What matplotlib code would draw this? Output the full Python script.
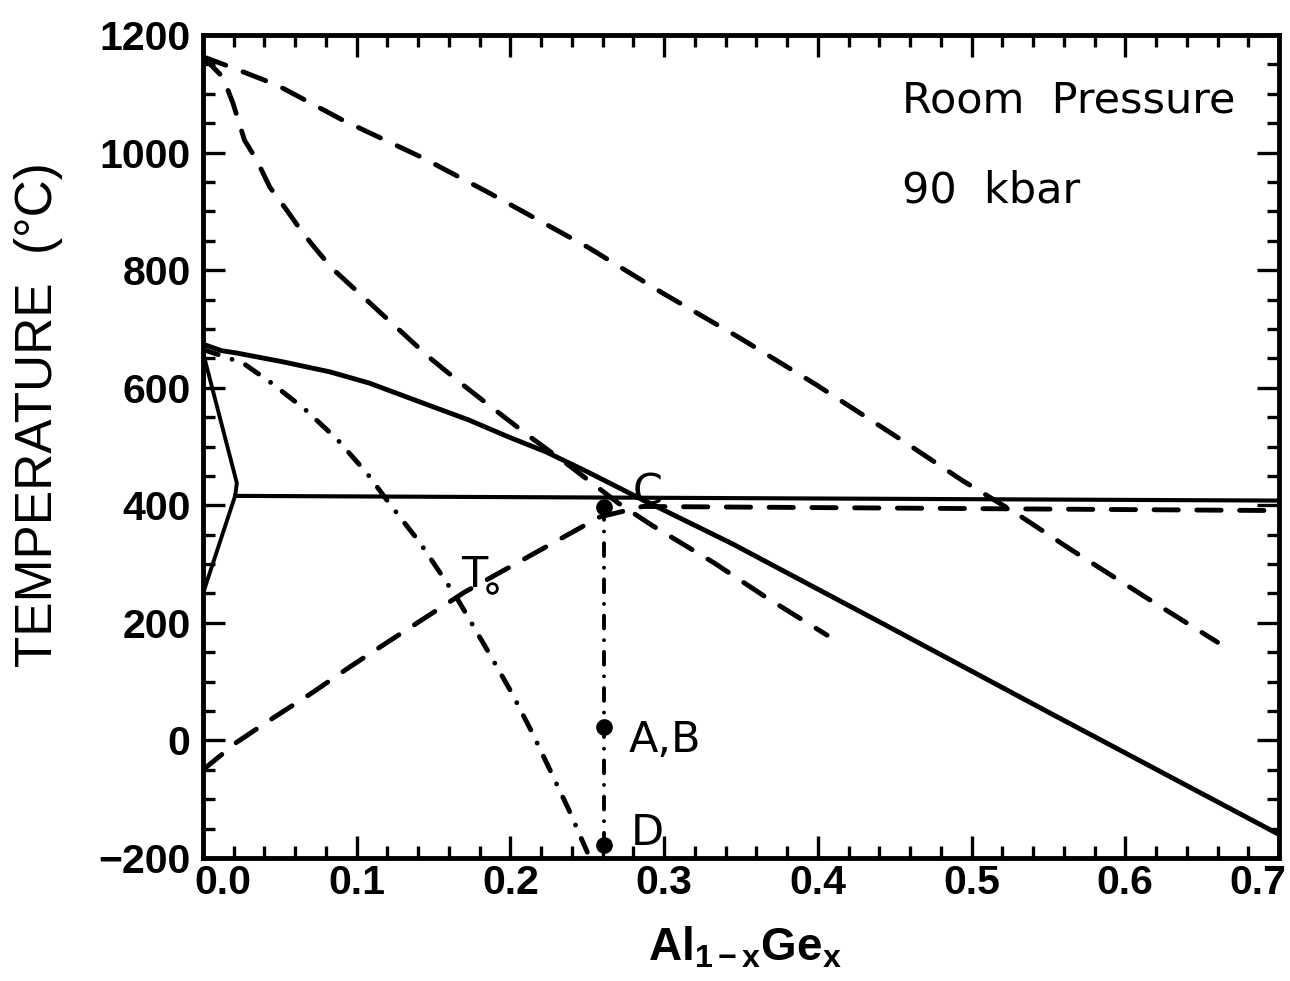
"""Al-Ge phase diagram: room pressure vs 90 kbar curves."""

import numpy as np
import matplotlib
matplotlib.use("Agg")
import matplotlib.pyplot as plt
from matplotlib.transforms import blended_transform_factory

plt.rcParams['mathtext.fontset'] = 'custom'
plt.rcParams['mathtext.rm'] = 'Liberation Sans'
plt.rcParams['mathtext.bf'] = 'Liberation Sans:bold'
plt.rcParams['mathtext.it'] = 'Liberation Sans:italic'

# room pressure liquidus (solid)
liq_x = [0.0, 0.012, 0.022, 0.052, 0.0825, 0.108, 0.143, 0.173, 0.199, 0.223,
         0.250, 0.284, 0.344, 0.442, 0.55, 0.70]
liq_y = [674, 663, 659, 644, 627, 608, 574, 545, 516, 491,
         457, 412, 335, 199, 48, -160]

# Al-rich solvus (solid)
solvus_x = [0.0, 0.022, 0.021, 0.0]
solvus_y = [660, 438, 417, 250]

# eutectic line (solid)
eut_x = [0.021, 0.70]
eut_y = [416, 408]

# T0 curve (dash-dot)
t0_x = [0.0, 0.026, 0.0435, 0.066, 0.087, 0.1065, 0.123, 0.141, 0.165,
        0.186, 0.2006, 0.214, 0.2266, 0.238, 0.250]
t0_y = [665, 642, 610, 564, 513, 455, 397, 337, 243,
        149, 82, 14, -55, -118, -190]

# 90 kbar curves (dashed)
hp_upper_x = [0.0, 0.0195, 0.048, 0.091, 0.143, 0.185, 0.251, 0.299, 0.349,
              0.399, 0.4545, 0.4935, 0.5286, 0.565, 0.613, 0.660]
hp_upper_y = [1163, 1144, 1115, 1055, 991, 933, 838, 761, 685,
              605, 511, 443, 387, 324, 244, 167]

hp_lower_x = [0.0, 0.013, 0.0195, 0.027, 0.035, 0.0435, 0.0545, 0.065, 0.074,
              0.084, 0.147, 0.169, 0.1916, 0.214, 0.236, 0.27, 0.292, 0.3325,
              0.366, 0.406]
hp_lower_y = [1163, 1128, 1084, 1021, 987, 941, 902, 863, 834,
              803, 652, 605, 559, 514, 472, 404, 366, 302,
              244, 179]

hp_t0_x = [0.0, 0.022, 0.0455, 0.071, 0.0955, 0.110, 0.17, 0.258, 0.286, 0.70]
hp_t0_y = [-50, -3, 38, 81, 125, 150, 252, 380, 398, 391]

# quench path points
path_x = 0.261
path_y = [397, 23, -178]

x_ticks = [0.0, 0.1, 0.2, 0.3, 0.4, 0.5, 0.6, 0.7]
x_tick_labels = ["0.0", "0.1", "0.2", "0.3", "0.4", "0.5", "0.6", "0.7"]
y_ticks = [-200, 0, 200, 400, 600, 800, 1000, 1200]

LW = 3.5
dash = (0, (5.0, 3.8))
dashdot = (0, (3.3, 3.0, 0.01, 3.0))

fig = plt.figure(figsize=(12.9, 9.81), dpi=100)
ax = fig.add_axes([203 / 1290, 1 - 858 / 981, 1076 / 1290, 823 / 981])

ax.plot(liq_x, liq_y, color='black', lw=LW)
ax.plot(solvus_x, solvus_y, color='black', lw=LW * 0.8)
ax.plot(eut_x, eut_y, color='black', lw=LW * 0.85)
ax.plot(t0_x, t0_y, color='black', lw=LW, linestyle=dashdot,
        dash_capstyle='round')
for xs, ys in [(hp_upper_x, hp_upper_y), (hp_lower_x, hp_lower_y),
               (hp_t0_x, hp_t0_y)]:
    ax.plot(xs, ys, color='black', lw=LW, linestyle=dash,
            dash_capstyle='round')

ax.plot([path_x] * len(path_y), path_y, color='black', lw=LW * 0.8,
        linestyle=dashdot, dash_capstyle='round')
ax.plot([path_x] * len(path_y), path_y, 'o', color='black', ms=11,
        clip_on=False)

# T0 marker
ax.plot([0.1877], [259], 'o', mfc='white', mec='black', ms=7, mew=2)

txt = dict(family='DejaVu Sans', fontsize=31, color='black')
ax.text(0.1766, 281, 'T', ha='center', va='center', **txt)
ax.text(0.289, 422, 'C', ha='center', va='center', **txt)
ax.text(0.277, 1, 'A,B', ha='left', va='center', **txt)
ax.text(0.2786, -158, 'D', ha='left', va='center', **txt)
ax.text(0.4545, 1089, 'Room  Pressure', ha='left', va='center', **txt)
ax.text(0.4545, 936, '90  kbar', ha='left', va='center', **txt)

ax.set_xlim(0, 0.7)
ax.set_ylim(-200, 1200)
ax.set_xticks(x_ticks)
ax.set_xticks(np.arange(0, 0.7001, 0.02), minor=True)
ax.set_yticks(y_ticks)
ax.set_yticks(np.arange(-200, 1201, 50), minor=True)
ax.set_xticklabels([])
ax.tick_params(which='both', direction='in', top=True, right=True,
               width=2.4, color='black')
ax.tick_params(which='major', length=16)
ax.tick_params(which='minor', length=8.5)
ax.tick_params(axis='y', pad=9)
for lab in ax.get_yticklabels():
    lab.set_family('Liberation Sans')
    lab.set_weight('bold')
    lab.set_fontsize(29.5)
for sp in ax.spines.values():
    sp.set_linewidth(3.5)

# x tick labels, end labels kept inside the frame
trans = blended_transform_factory(ax.transData, ax.transAxes)
label_pos = list(x_ticks)
label_pos[0] = 0.013
label_pos[-1] = 0.686
for xp, s in zip(label_pos, x_tick_labels):
    ax.text(xp, -0.0304, s, transform=trans, ha='center', va='center',
            family='Liberation Sans', weight='bold', fontsize=29.5)

fig.text(39 / 1290, 1 - 415 / 981, 'TEMPERATURE  (°C)', rotation=90,
         ha='center', va='center', family='Liberation Sans', fontsize=37)
fig.text(745 / 1290, 1 - 948 / 981, r'$\mathbf{Al_{1-x}Ge_{x}}$',
         ha='center', va='center', fontsize=33)

fig.savefig('out.png', dpi=100)
